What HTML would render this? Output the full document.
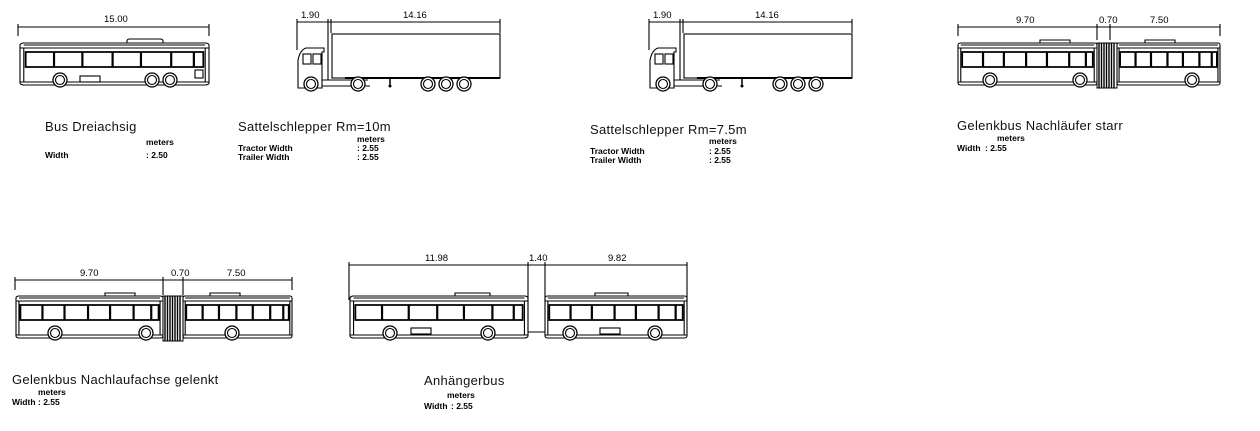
<!DOCTYPE html>
<html><head><meta charset="utf-8"><style>
body{margin:0;background:#fff;}
svg{display:block;font-family:"Liberation Sans",sans-serif;}
.s{fill:none;stroke:#000;stroke-width:1.1}
.t{font-size:13px;fill:#111;letter-spacing:0.3px}
.m{font-size:8.5px;fill:#000;font-weight:bold}
.d{font-size:9.5px;fill:#000}
</style></head><body>
<svg width="1260" height="431" viewBox="0 0 1260 431">
<defs>
<g id="bb">
 <rect x="0" y="3" width="100" height="42" rx="2" class="s" vector-effect="non-scaling-stroke"/>
 <line x1="0" y1="8" x2="100" y2="8" class="s" vector-effect="non-scaling-stroke"/>
 <line x1="2" y1="5" x2="98" y2="5" class="s" vector-effect="non-scaling-stroke"/>
 <rect x="3" y="12" width="94" height="15" fill="none" stroke="#000" stroke-width="1.8" vector-effect="non-scaling-stroke"/>
 <g stroke="#000" stroke-width="2.2">
 <line x1="18" y1="12" x2="18" y2="27" vector-effect="non-scaling-stroke"/><line x1="33" y1="12" x2="33" y2="27" vector-effect="non-scaling-stroke"/><line x1="49" y1="12" x2="49" y2="27" vector-effect="non-scaling-stroke"/><line x1="64" y1="12" x2="64" y2="27" vector-effect="non-scaling-stroke"/><line x1="80" y1="12" x2="80" y2="27" vector-effect="non-scaling-stroke"/><line x1="92" y1="12" x2="92" y2="27" vector-effect="non-scaling-stroke"/>
 </g>
 <line x1="0" y1="42" x2="100" y2="42" class="s" vector-effect="non-scaling-stroke"/>
 <line x1="2" y1="8" x2="2" y2="42" class="s" vector-effect="non-scaling-stroke"/>
 <line x1="98" y1="8" x2="98" y2="42" class="s" vector-effect="non-scaling-stroke"/>
</g>
<g id="wh"><circle r="7" fill="#fff" stroke="#000" stroke-width="1.3"/><circle r="4.5" class="s"/></g>
<g id="hatch"><rect x="0" y="0" width="20" height="45" fill="#fff" stroke="#000"/>
<g stroke="#000" stroke-width="1.4"><line x1="2" y1="0" x2="2" y2="45"/><line x1="4.5" y1="0" x2="4.5" y2="45"/><line x1="7" y1="0" x2="7" y2="45"/><line x1="9.5" y1="0" x2="9.5" y2="45"/><line x1="12" y1="0" x2="12" y2="45"/><line x1="14.5" y1="0" x2="14.5" y2="45"/><line x1="17" y1="0" x2="17" y2="45"/></g></g>
</defs>

<!-- Bus Dreiachsig -->
<g class="s"><line x1="18" y1="27" x2="209" y2="27"/><line x1="18" y1="24" x2="18" y2="36"/><line x1="209" y1="24" x2="209" y2="36"/></g>
<text x="104" y="22" class="d">15.00</text>
<use href="#bb" transform="translate(20,40) scale(1.89,1)"/>
<path d="M127 43 v-2 q0-2 3-2 h30 q3 0 3 2 v2" class="s"/>
<rect x="80" y="76" width="20" height="6" class="s"/><rect x="195" y="70" width="8" height="8" class="s"/>
<use href="#wh" x="60" y="80"/><use href="#wh" x="152" y="80"/><use href="#wh" x="170" y="80"/>
<text x="45" y="131" class="t">Bus Dreiachsig</text>
<text x="146" y="145" class="m">meters</text>
<text x="45" y="158" class="m">Width</text><text x="146" y="158" class="m">: 2.50</text>

<!-- Sattelschlepper 1 -->
<g id="truck">
<g class="s"><line x1="297" y1="22" x2="500" y2="22"/><line x1="297" y1="19" x2="297" y2="50"/><line x1="328" y1="19" x2="328" y2="80"/><line x1="331" y1="19" x2="331" y2="33"/><line x1="500" y1="19" x2="500" y2="33"/></g>
<text x="301" y="18" class="d">1.90</text><text x="403" y="18" class="d">14.16</text>
<rect x="332" y="34" width="168" height="44" class="s"/>
<line x1="345" y1="78" x2="500" y2="78" stroke="#000" stroke-width="2"/>
<path d="M298 88 V60 q2-10 8-12 h18 v4 h-2 v36 z" class="s"/>
<rect x="303" y="54" width="8" height="10" class="s"/><rect x="313" y="54" width="8" height="10" class="s"/>
<line x1="322" y1="80" x2="368" y2="80" class="s"/><line x1="322" y1="86" x2="370" y2="86" class="s"/>
<line x1="390" y1="78" x2="390" y2="85" stroke="#000" stroke-width="1.5"/><circle cx="390" cy="86" r="1.5"/>
<use href="#wh" x="311" y="84"/><use href="#wh" x="358" y="84"/>
<use href="#wh" x="428" y="84"/><use href="#wh" x="446" y="84"/><use href="#wh" x="464" y="84"/>
</g>
<text x="238" y="131" class="t">Sattelschlepper Rm=10m</text>
<text x="357" y="142" class="m">meters</text>
<text x="238" y="151" class="m">Tractor Width</text><text x="357" y="151" class="m">: 2.55</text>
<text x="238" y="160" class="m">Trailer Width</text><text x="357" y="160" class="m">: 2.55</text>

<!-- Sattelschlepper 2 -->
<use href="#truck" transform="translate(352,0)"/>
<text x="590" y="134" class="t">Sattelschlepper Rm=7.5m</text>
<text x="709" y="144" class="m">meters</text>
<text x="590" y="154" class="m">Tractor Width</text><text x="709" y="154" class="m">: 2.55</text>
<text x="590" y="163" class="m">Trailer Width</text><text x="709" y="163" class="m">: 2.55</text>

<!-- Gelenkbus starr -->
<g class="s"><line x1="958" y1="27" x2="1220" y2="27"/><line x1="958" y1="24" x2="958" y2="36"/><line x1="1097" y1="24" x2="1097" y2="40"/><line x1="1110" y1="24" x2="1110" y2="40"/><line x1="1220" y1="24" x2="1220" y2="36"/></g>
<text x="1016" y="23" class="d">9.70</text><text x="1099" y="23" class="d">0.70</text><text x="1150" y="23" class="d">7.50</text>
<use href="#bb" transform="translate(958,40) scale(1.39,1)"/>
<use href="#hatch" x="1097" y="43"/>
<use href="#bb" transform="translate(1117,40) scale(1.03,1)"/>
<path d="M1040 43 v-3 h30 v3 M1145 43 v-3 h30 v3" class="s"/>
<use href="#wh" x="990" y="80"/><use href="#wh" x="1080" y="80"/><use href="#wh" x="1192" y="80"/>
<text x="957" y="130" class="t">Gelenkbus Nachläufer starr</text>
<text x="997" y="141" class="m">meters</text>
<text x="957" y="151" class="m">Width</text><text x="985" y="151" class="m">: 2.55</text>

<!-- Gelenkbus gelenkt -->
<g class="s"><line x1="15" y1="280" x2="292" y2="280"/><line x1="15" y1="277" x2="15" y2="290"/><line x1="163" y1="277" x2="163" y2="295"/><line x1="183" y1="277" x2="183" y2="295"/><line x1="292" y1="277" x2="292" y2="290"/></g>
<text x="80" y="276" class="d">9.70</text><text x="171" y="276" class="d">0.70</text><text x="227" y="276" class="d">7.50</text>
<use href="#bb" transform="translate(16,293) scale(1.47,1)"/>
<use href="#hatch" x="163" y="296"/>
<use href="#bb" transform="translate(183,293) scale(1.09,1)"/>
<path d="M105 296 v-3 h30 v3 M210 296 v-3 h30 v3" class="s"/>
<use href="#wh" x="55" y="333"/><use href="#wh" x="146" y="333"/><use href="#wh" x="232" y="333"/>
<text x="12" y="384" class="t">Gelenkbus Nachlaufachse gelenkt</text>
<text x="38" y="395" class="m">meters</text>
<text x="12" y="405" class="m">Width</text><text x="38" y="405" class="m">: 2.55</text>

<!-- Anhängerbus -->
<g class="s"><line x1="349" y1="265" x2="687" y2="265"/><line x1="349" y1="262" x2="349" y2="300"/><line x1="528" y1="262" x2="528" y2="300"/><line x1="545" y1="262" x2="545" y2="300"/><line x1="687" y1="262" x2="687" y2="300"/></g>
<text x="425" y="261" class="d">11.98</text><text x="529" y="261" class="d">1.40</text><text x="608" y="261" class="d">9.82</text>
<use href="#bb" transform="translate(350,293) scale(1.78,1)"/>
<use href="#bb" transform="translate(545,293) scale(1.42,1)"/>
<path d="M455 296 v-3 h35 v3 M595 296 v-3 h33 v3" class="s"/>
<line x1="528" y1="332" x2="545" y2="332" class="s"/>
<rect x="411" y="328" width="20" height="6" class="s"/><rect x="600" y="328" width="20" height="6" class="s"/>
<use href="#wh" x="390" y="333"/><use href="#wh" x="488" y="333"/><use href="#wh" x="570" y="333"/><use href="#wh" x="655" y="333"/>
<text x="424" y="385" class="t">Anhängerbus</text>
<text x="447" y="398" class="m">meters</text>
<text x="424" y="409" class="m">Width</text><text x="451" y="409" class="m">: 2.55</text>
</svg>
</body></html>
